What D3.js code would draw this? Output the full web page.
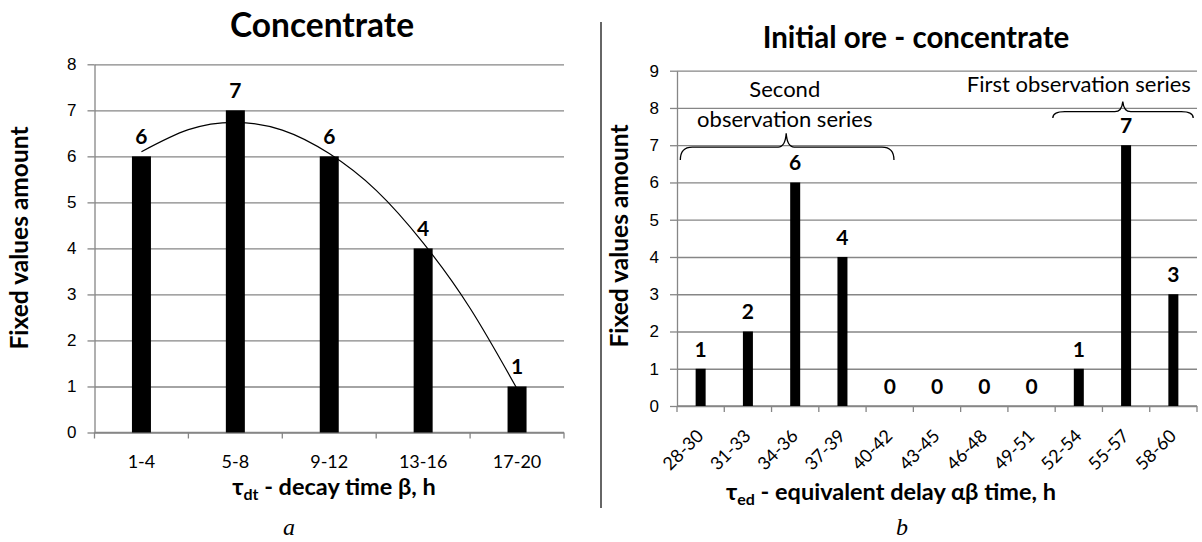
<!DOCTYPE html>
<html>
<head>
  <meta charset="utf-8">
  <title>Concentrate / Initial ore - concentrate</title>
  <script src="https://d3js.org/d3.v7.min.js"></script>
  <style>
    body { margin: 0; background: #fff; }
    svg { display: block; font-family: Lato, "Open Sans", sans-serif; }
    .grid line { stroke: #868686; stroke-width: 1.3; }
    .grid path { display: none; }
    .axis path, .axis line { stroke: #868686; stroke-width: 1.3; }
    .axis text { font-size: 17px; fill: #000; }
    .cat text { font-size: 18px; fill: #000; }
  </style>
</head>
<body>
<svg id="chart" width="1202" height="542"></svg>
<script>
  // chart a
  var leftCats = ['1-4', '5-8', '9-12', '13-16', '17-20'],
      leftValues = [6, 7, 6, 4, 1],
      leftTicks = [0, 1, 2, 3, 4, 5, 6, 7, 8];

  // trend curve, in category positions (1 = first bar)
  var trendPos = [1, 1.5, 2, 2.5, 3, 3.5, 4, 4.5, 5],
      trendValues = [6.1, 6.58, 6.74, 6.57, 6.06, 5.26, 4.12, 2.7, 0.95];

  // chart b
  var rightCats = ['28-30', '31-33', '34-36', '37-39', '40-42', '43-45',
                   '46-48', '49-51', '52-54', '55-57', '58-60'],
      rightValues = [1, 2, 6, 4, 0, 0, 0, 0, 1, 7, 3],
      rightTicks = [0, 1, 2, 3, 4, 5, 6, 7, 8, 9];

  var svg = d3.select('#chart');

  function drawPanel(o) {
    var g = svg.append('g');
    var x = d3.scaleBand().domain(o.cats).range([o.left, o.right]);
    var y = d3.scaleLinear().domain([0, o.max]).range([o.bottom, o.top]);
    var w = o.right - o.left;

    // gridlines
    g.append('g')
        .attr('class', 'grid')
        .attr('transform', 'translate(' + o.left + ',0)')
        .call(d3.axisLeft(y).tickValues(o.ticks).tickSize(-w).tickFormat(''));

    // y axis with labels
    g.append('g')
        .attr('class', 'axis')
        .attr('transform', 'translate(' + o.left + ',0)')
        .call(d3.axisLeft(y).tickValues(o.ticks).tickSizeInner(7).tickSizeOuter(0).tickPadding(11));

    // x axis line + tick marks between categories
    var xa = g.append('g').attr('class', 'axis');
    xa.append('line')
        .attr('x1', o.left).attr('x2', o.right)
        .attr('y1', y(0)).attr('y2', y(0));
    xa.selectAll('line.tk')
      .data(d3.range(o.cats.length + 1))
      .enter().append('line')
        .attr('class', 'tk')
        .attr('x1', function(i) { return o.left + i * x.step(); })
        .attr('x2', function(i) { return o.left + i * x.step(); })
        .attr('y1', y(0)).attr('y2', y(0) + 6);

    // bars
    g.selectAll('rect.bar')
      .data(o.values)
      .enter().append('rect')
        .attr('class', 'bar')
        .attr('x', function(d, i) { return x(o.cats[i]) + (x.step() - o.barW) / 2; })
        .attr('width', o.barW)
        .attr('y', function(d) { return y(d); })
        .attr('height', function(d) { return y(0) - y(d); })
        .attr('fill', '#000');

    // value labels
    g.selectAll('text.val')
      .data(o.values)
      .enter().append('text')
        .attr('class', 'val')
        .attr('x', function(d, i) { return x(o.cats[i]) + x.step() / 2; })
        .attr('y', function(d) { return y(d) - 12; })
        .attr('text-anchor', 'middle')
        .attr('font-size', 21)
        .attr('font-weight', 'bold')
        .text(function(d) { return d; });

    // category labels
    var lab = g.append('g').attr('class', 'cat');
    if (o.rotate) {
      lab.selectAll('text')
        .data(o.cats)
        .enter().append('text')
          .attr('text-anchor', 'end')
          .attr('transform', function(d) {
            return 'translate(' + (x(d) + x.step() / 2 + 4) + ',' + (y(0) + 31) + ') rotate(-45)';
          })
          .text(function(d) { return d; });
    } else {
      lab.selectAll('text')
        .data(o.cats)
        .enter().append('text')
          .attr('text-anchor', 'middle')
          .attr('x', function(d) { return x(d) + x.step() / 2; })
          .attr('y', y(0) + 35)
          .text(function(d) { return d; });
    }

    // y axis title
    g.append('text')
        .attr('transform', 'translate(' + o.yTitle[0] + ',' + o.yTitle[1] + ') rotate(-90)')
        .attr('text-anchor', 'middle')
        .attr('font-size', 24.5)
        .attr('font-weight', 'bold')
        .text('Fixed values amount');

    // chart title
    g.append('text')
        .attr('x', o.title[0]).attr('y', o.title[1])
        .attr('text-anchor', 'middle')
        .attr('font-size', o.titleSize)
        .attr('font-weight', 'bold')
        .text(o.titleText);

    // x axis title with subscript
    var xt = g.append('text')
        .attr('x', o.xTitle[0]).attr('y', o.xTitle[1])
        .attr('text-anchor', 'middle')
        .attr('font-size', 23.5)
        .attr('font-weight', 'bold');
    xt.append('tspan').text('τ');
    xt.append('tspan').attr('font-size', 16).attr('dy', 5).text(o.sub);
    xt.append('tspan').attr('dy', -5).text(o.xTitleText);

    // panel letter
    g.append('text')
        .attr('x', o.letter[0]).attr('y', o.letter[1])
        .attr('text-anchor', 'middle')
        .attr('font-family', '"Liberation Serif", serif')
        .attr('font-style', 'italic')
        .attr('font-size', 24)
        .text(o.letterText);

    return { g: g, x: x, y: y };
  }

  var a = drawPanel({
    cats: leftCats, values: leftValues, ticks: leftTicks, max: 8,
    left: 94.5, right: 564, top: 64.3, bottom: 432.5, barW: 19,
    yTitle: [28, 238], title: [322, 36.7], titleSize: 33.5, titleText: 'Concentrate',
    xTitle: [334, 495], sub: 'dt', xTitleText: ' - decay time β, h',
    letter: [289, 535], letterText: 'a'
  });

  // polynomial trend curve
  var tx = d3.scaleLinear().domain([0.5, leftCats.length + 0.5]).range([94.5, 564]);
  a.g.append('path')
      .datum(trendPos.map(function(p, i) { return [p, trendValues[i]]; }))
      .attr('fill', 'none')
      .attr('stroke', '#000')
      .attr('stroke-width', 1.2)
      .attr('d', d3.line()
        .x(function(d) { return tx(d[0]); })
        .y(function(d) { return a.y(d[1]); })
        .curve(d3.curveNatural));

  var b = drawPanel({
    cats: rightCats, values: rightValues, ticks: rightTicks, max: 9,
    left: 677, right: 1197, top: 70.7, bottom: 406, barW: 10, rotate: true,
    yTitle: [628, 236], title: [916, 48.3], titleSize: 29.5, titleText: 'Initial ore - concentrate',
    xTitle: [891, 500], sub: 'ed', xTitleText: ' - equivalent delay αβ time, h',
    letter: [902, 535], letterText: 'b'
  });

  // braces marking the observation series (positions in band units / values)
  var bx = d3.scaleLinear().domain([0, rightCats.length]).range([677, 1197]);

  function brace(g, x1, x2, xm, yFlat, yTip, yEnd) {
    var r = 12;
    var p = d3.path();
    p.moveTo(x1, yEnd);
    p.quadraticCurveTo(x1, yFlat, x1 + r, yFlat);
    p.lineTo(xm - 8, yFlat);
    p.quadraticCurveTo(xm - 1, yFlat, xm, yTip);
    p.quadraticCurveTo(xm + 1, yFlat, xm + 8, yFlat);
    p.lineTo(x2 - r, yFlat);
    p.quadraticCurveTo(x2, yFlat, x2, yEnd);
    g.append('path')
        .attr('d', p.toString())
        .attr('fill', 'none')
        .attr('stroke', '#000')
        .attr('stroke-width', 1.3);
  }

  brace(b.g, bx(0.07), bx(4.59), bx(2.31), b.y(6.95), b.y(7.32), b.y(6.6));
  brace(b.g, bx(7.95), bx(10.92), bx(9.43), b.y(7.9), b.y(8.17), b.y(7.73));

  var notes = [
    { text: 'Second', pos: 2.28, val: 8.3 },
    { text: 'observation series', pos: 2.28, val: 7.5 },
    { text: 'First observation series', pos: 8.5, val: 8.43 }
  ];
  b.g.selectAll('text.note')
    .data(notes)
    .enter().append('text')
      .attr('class', 'note')
      .attr('x', function(d) { return bx(d.pos); })
      .attr('y', function(d) { return b.y(d.val); })
      .attr('text-anchor', 'middle')
      .attr('font-size', 22)
      .text(function(d) { return d.text; });

  // separator between panels
  svg.append('line')
      .attr('x1', 601).attr('x2', 601)
      .attr('y1', 22).attr('y2', 508)
      .attr('stroke', '#333')
      .attr('stroke-width', 1.5);
</script>
</body>
</html>
